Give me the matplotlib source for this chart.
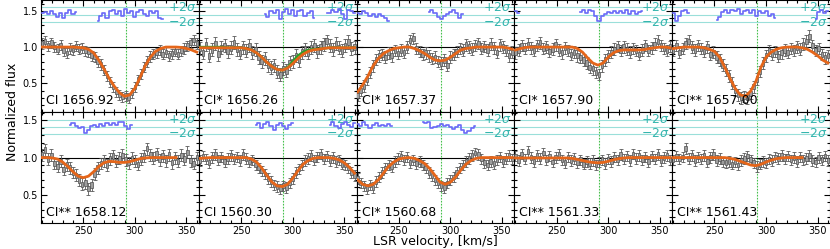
import numpy as np
import matplotlib
matplotlib.use('Agg')
import matplotlib.pyplot as plt
from matplotlib.ticker import MultipleLocator

nan = np.nan

# velocity grids (km/s): spectrum pixels and model samples
v_data = np.arange(210, 361, 3)
v_model = np.arange(210, 361, 5)

labels = ['CI 1656.92', 'CI* 1656.26', 'CI* 1657.37', 'CI* 1657.90', 'CI** 1657.00',
          'CI** 1658.12', 'CI 1560.30', 'CI* 1560.68', 'CI** 1561.33', 'CI** 1561.43']
errors = [0.07, 0.09, 0.08, 0.08, 0.08, 0.08, 0.07, 0.07, 0.07, 0.07]

# normalized flux, one list per transition
f1 = [1.05, 1.08, 1.02, 1.06, 1.00, 0.97, 1.03, 0.95, 0.92, 0.98,
      0.96, 1.01, 0.97, 0.99, 0.95, 0.93, 0.88, 0.86, 0.80, 0.76,
      0.68, 0.60, 0.52, 0.45, 0.38, 0.34, 0.31, 0.33, 0.30, 0.37,
      0.45, 0.55, 0.63, 0.72, 0.80, 0.87, 0.90, 0.92, 0.96, 0.90,
      0.93, 0.88, 0.91, 0.94, 0.90, 0.95, 0.98, 1.02, 1.06, 1.10,
      1.05]
f2 = [0.98, 0.92, 1.03, 0.88, 0.96, 1.05, 0.90, 0.99, 1.02, 0.94,
      0.99, 1.06, 0.97, 0.92, 1.00, 0.95, 1.02, 0.93, 0.96, 0.86,
      0.80, 0.84, 0.75, 0.72, 0.74, 0.66, 0.62, 0.70, 0.67, 0.78,
      0.80, 0.88, 0.82, 0.93, 0.97, 0.92, 0.99, 1.02, 0.94, 1.00,
      1.04, 1.08, 1.02, 0.97, 1.05, 0.99, 0.95, 1.02, 1.07, 0.98,
      1.00]
f3 = [0.33, 0.40, 0.46, 0.55, 0.65, 0.74, 0.83, 0.88, 0.90, 0.86,
      0.92, 0.88, 0.95, 0.91, 0.96, 0.93, 1.00, 1.09, 1.12, 0.98,
      0.94, 0.90, 0.92, 0.88, 0.84, 0.86, 0.80, 0.78, 0.82, 0.75,
      0.86, 0.90, 0.94, 0.98, 0.96, 1.03, 1.00, 0.97, 1.02, 1.05,
      0.98, 1.01, 0.96, 1.04, 0.99, 0.93, 1.03, 1.00, 0.95, 0.88,
      0.93]
f4 = [0.92, 0.96, 1.02, 0.98, 1.04, 0.99, 0.95, 1.02, 1.06, 0.98,
      1.00, 0.94, 0.97, 1.03, 0.96, 0.92, 0.99, 0.95, 0.90, 0.93,
      0.88, 0.86, 0.82, 0.78, 0.72, 0.70, 0.65, 0.62, 0.74, 0.82,
      0.88, 0.93, 0.97, 1.01, 0.95, 1.00, 0.97, 0.93, 0.98, 0.95,
      0.90, 0.96, 1.02, 0.95, 0.99, 1.04, 1.08, 1.02, 0.98, 0.95,
      1.01]
f5 = [0.95, 1.02, 0.93, 0.98, 1.05, 1.08, 1.00, 0.96, 1.02, 0.98,
      0.94, 1.00, 0.90, 0.93, 0.86, 0.82, 0.75, 0.68, 0.60, 0.50,
      0.40, 0.34, 0.30, 0.32, 0.30, 0.36, 0.45, 0.56, 0.66, 0.78,
      0.88, 0.95, 0.90, 0.94, 0.87, 0.92, 0.96, 0.93, 0.98, 0.95,
      1.00, 0.97, 1.04, 1.08, 1.15, 1.02, 0.95, 0.98, 0.90, 0.85,
      0.88]
f6 = [1.04, 1.10, 0.98, 1.03, 0.92, 0.88, 0.95, 0.84, 0.90, 0.86,
      0.80, 0.76, 0.70, 0.64, 0.66, 0.58, 0.63, 0.78, 0.86, 0.92,
      0.96, 0.90, 0.98, 1.02, 0.95, 0.99, 1.03, 0.97, 0.93, 0.99,
      0.95, 0.91, 0.98, 1.02, 1.12, 1.04, 0.99, 1.05, 0.97, 1.02,
      0.96, 1.04, 0.93, 1.00, 0.95, 1.03, 0.98, 1.07, 0.96, 0.92,
      1.00]
f7 = [0.96, 1.02, 0.98, 0.93, 1.00, 1.04, 0.97, 1.01, 0.95, 0.99,
      1.03, 0.98, 1.01, 0.96, 1.04, 0.99, 0.94, 0.97, 0.90, 0.86,
      0.82, 0.78, 0.72, 0.68, 0.63, 0.61, 0.58, 0.62, 0.60, 0.66,
      0.72, 0.80, 0.85, 0.90, 0.96, 0.99, 1.03, 0.97, 1.01, 1.05,
      0.98, 1.02, 0.96, 1.00, 0.95, 0.97, 0.91, 0.90, 0.86, 0.80,
      0.76]
f8 = [0.72, 0.66, 0.62, 0.58, 0.63, 0.60, 0.68, 0.74, 0.80, 0.86,
      0.90, 0.88, 0.95, 0.99, 1.02, 0.97, 1.01, 0.93, 0.97, 0.92,
      0.95, 0.90, 0.86, 0.80, 0.76, 0.70, 0.66, 0.62, 0.60, 0.66,
      0.70, 0.74, 0.80, 0.86, 0.90, 0.95, 0.99, 1.03, 1.06, 1.04,
      0.98, 0.93, 0.90, 0.95, 0.92, 0.97, 1.01, 0.95, 0.99, 1.03,
      0.98]
f9 = [1.02, 0.96, 1.05, 0.98, 1.08, 1.00, 0.95, 1.03, 0.99, 1.06,
      0.97, 1.02, 0.94, 1.00, 1.04, 0.97, 0.93, 1.01, 0.96, 0.99,
      0.93, 0.97, 0.91, 0.95, 0.92, 0.96, 0.90, 0.94, 0.97, 0.92,
      0.98, 0.95, 1.01, 0.97, 1.04, 0.98, 1.02, 0.96, 1.05, 0.99,
      1.03, 0.97, 1.01, 0.95, 1.02, 0.98, 1.04, 0.96, 1.00, 1.03,
      0.97]
f10 = [0.97, 1.02, 0.98, 1.01, 1.12, 0.99, 1.03, 0.96, 1.01, 0.98,
       1.03, 0.95, 1.00, 1.04, 0.96, 0.99, 0.94, 0.93, 0.95, 0.91,
       0.94, 0.90, 0.96, 0.99, 1.02, 0.97, 0.93, 0.88, 0.91, 0.95,
       0.93, 0.98, 0.96, 1.01, 0.99, 1.03, 0.98, 1.02, 0.97, 1.00,
       0.95, 1.01, 0.97, 0.99, 1.03, 0.96, 0.94, 1.00, 0.97, 1.02,
       0.96]

# fitted profiles sampled every 5 km/s
m1 = [1.0, 1.0, 1.0, 1.0, 1.0, 1.0, 1.0, 0.995, 0.99, 0.97,
      0.92, 0.82, 0.70, 0.57, 0.46, 0.37, 0.32, 0.34, 0.43, 0.58,
      0.74, 0.86, 0.94, 0.98, 1.0, 1.0, 1.0, 0.995, 0.98, 0.96,
      0.93]
m2 = [0.99, 0.99, 0.99, 0.99, 0.99, 0.99, 0.99, 0.99, 0.99, 0.98,
      0.96, 0.92, 0.86, 0.79, 0.73, 0.69, 0.68, 0.71, 0.77, 0.84,
      0.90, 0.94, 0.96, 0.97, 0.98, 0.99, 0.99, 0.99, 0.99, 0.99,
      0.99]
m3 = [0.38, 0.48, 0.60, 0.74, 0.84, 0.91, 0.95, 0.98, 0.99, 1.0,
      1.0, 0.98, 0.95, 0.91, 0.86, 0.82, 0.81, 0.82, 0.86, 0.91,
      0.96, 0.98, 0.99, 1.0, 1.0, 1.0, 1.0, 1.0, 1.0, 0.99,
      0.97]
m4 = [0.96, 0.98, 0.995, 1.0, 1.0, 1.0, 1.0, 1.0, 1.0, 1.0,
      1.0, 1.0, 0.98, 0.93, 0.85, 0.78, 0.75, 0.78, 0.86, 0.92,
      0.95, 0.96, 0.96, 0.96, 0.96, 0.965, 0.98, 0.99, 1.0, 1.0,
      0.99]
m5 = [0.98, 0.99, 1.0, 1.0, 1.0, 1.0, 0.99, 0.97, 0.94, 0.86,
      0.72, 0.57, 0.43, 0.34, 0.32, 0.39, 0.52, 0.72, 0.86, 0.93,
      0.97, 0.99, 1.0, 1.0, 1.0, 0.99, 0.97, 0.93, 0.88, 0.82,
      0.78]
m6 = [1.0, 1.0, 0.995, 0.98, 0.94, 0.88, 0.81, 0.75, 0.73, 0.75,
      0.81, 0.88, 0.93, 0.95, 0.945, 0.935, 0.935, 0.945, 0.965, 0.985,
      0.995, 1.0, 1.0, 1.0, 1.0, 1.0, 1.0, nan, nan, nan,
      nan]
m7 = [0.99, 0.995, 1.0, 1.0, 1.0, 1.0, 1.0, 1.0, 1.0, 1.0,
      0.98, 0.94, 0.86, 0.76, 0.67, 0.62, 0.61, 0.64, 0.72, 0.82,
      0.91, 0.96, 0.99, 1.0, 1.0, 1.0, 0.99, 0.97, 0.93, 0.87,
      0.79]
m8 = [0.70, 0.64, 0.62, 0.64, 0.70, 0.79, 0.88, 0.94, 0.98, 0.995,
      1.0, 0.99, 0.96, 0.92, 0.85, 0.76, 0.67, 0.64, 0.67, 0.74,
      0.83, 0.91, 0.96, 0.99, 1.0, 1.0, 1.0, 1.0, 1.0, 1.0,
      1.0]
m9 = [0.995, 0.995, 0.995, 0.995, 0.995, 0.995, 0.995, 0.995, 0.995, 0.995,
      0.995, 0.99, 0.975, 0.96, 0.945, 0.935, 0.93, 0.935, 0.95, 0.97,
      0.985, 0.995, 1.0, 1.0, 1.0, 1.0, 1.0, 1.0, 1.0, 1.0,
      1.0]
m10 = [1.0, 1.0, 1.0, 1.0, 1.0, 1.0, 1.0, 1.0, 1.0, 1.0,
       1.0, 0.99, 0.975, 0.95, 0.925, 0.90, 0.89, 0.91, 0.94, 0.965,
       0.985, 0.995, 1.0, 1.0, 1.0, 1.0, nan, nan, nan, nan,
       nan]
# second (green) component, only shown in CI* 1656.26
g2 = [1.0, 1.0, 1.0, 1.0, 1.0, 0.995, 0.99, 0.99, 0.99, 0.98,
      0.96, 0.92, 0.86, 0.79, 0.73, 0.69, 0.68, 0.72, 0.80, 0.88,
      0.93, 0.96, 0.97, 0.975, 0.98, 0.99, 0.99, 0.99, 0.99, 0.99,
      0.99]

# residuals in units of sigma: (first velocity, values on the 3 km/s grid)
r1 = [(210, [0.5, 0.8, 0.2, 1.0, 0.3, -0.5, 0.6, -0.8, 0.4, 1.2, 0.3, 0.7]),
      (264, [-1.6, -0.4, 0.5, -0.8, 0.9, 1.3, 0.2, 1.1, -0.3, 1.5, 0.6,
             1.0, -0.5, 0.8, 1.4, 0.3, -0.2, 0.9, 0.4, 1.1, -0.9, -1.2])]
r2 = [(273, [0.2, -0.6, 1.0, 0.4, 1.3, -1.2, 0.8, 1.5, 0.3, 1.2, -0.4,
             0.9, 1.4, -0.2, 0.6, 1.1, -0.8]),
      (333, [0.4, 0.6, 1.3, 0.8, 1.6, 0.2, -1.2, 1.4, 0.9, 0.5])]
r3 = [(210, [0.6, 0.2, 0.9, 0.5, -0.3, 0.1, -0.6, 0.3, -0.2, -0.9, -1.6]),
      (279, [0.7, 1.2, 0.4, -0.5, -1.0, -0.3, 0.2, 0.8, 1.3, 0.6, -0.8, 0.1])]
r4 = [(210, [1.0, 0.5]),
      (273, [0.8, 1.4, 0.6, 1.2, 0.9, -0.4, -1.5, -0.2, 0.3, 0.8, 0.4,
             1.0, 0.5, 1.1, 0.6, 1.2, 0.3, 0.9, 0.2, 0.7, 1.0])]
r5 = [(210, [0.5, -1.5, -0.2, 1.0, 1.4, 0.6]),
      (252, [-1.4, -0.6, 0.8, 1.2, 0.4, 1.3, 0.9, 1.5, 0.2, 1.1,
             1.4, 0.6, 1.2, -0.2, 0.9, 0.5, 1.0, -0.4, 0.3, -0.8]),
      (348, [-1.0, 0.8, 1.3, 0.6, 1.0])]
r6 = [(237, [0.6, 0.9, 0.2, -0.4, -0.1, -1.8, -1.0, 0.2, 0.5, 0.0, 0.8,
             0.3, 0.9, 0.4, 1.0, 0.6, 1.2, 1.4, 0.2, -0.6, 0.5])]
r7 = [(264, [0.4, 1.0, -0.3, 0.7, 1.3, 0.2, -0.8, 0.5, 1.1, 0.3, -0.5, 0.6, 0.9]),
      (336, [0.5, 1.2, 0.3, -0.4, 0.8, 1.4, 0.6, -0.2, 0.9])]
r8 = [(210, [0.8, 0.3, 1.2, 0.5, -0.3, 0.4, 0.9, 0.2, 0.6, 0.3, 0.7, 0.1]),
      (273, [1.4, 1.0, 1.3, -0.4, -0.2, 0.3, 0.8, 0.2, 0.5, 0.0, -0.5,
             -0.2, 0.4, -0.9, -1.6, -1.2, -0.4, 0.2])]
r9 = []
r10 = []

fluxes = [f1, f2, f3, f4, f5, f6, f7, f8, f9, f10]
models = [m1, m2, m3, m4, m5, m6, m7, m8, m9, m10]
greens = [None, g2, None, None, None, None, None, None, None, None]
resids = [r1, r2, r3, r4, r5, r6, r7, r8, r9, r10]

v_sys = 291
row_ylim = [(0.11, 1.65), (0.12, 1.62)]
row_band = [(1.445, 0.105), (1.415, 0.097)]   # centre, 2 sigma

fig, axes = plt.subplots(2, 5, figsize=(8.3, 2.49), dpi=100)
fig.subplots_adjust(left=0.0494, right=1.0, top=1.0, bottom=0.1044,
                    wspace=0, hspace=0)

for k, ax in enumerate(axes.flat):
    row, col = divmod(k, 5)
    c, h = row_band[row]
    v = v_data
    f = np.array(fluxes[k])
    e = errors[k]

    ax.axhline(1.0, color='k', lw=0.8, zorder=1)
    ax.axvline(v_sys, color='#46c04c', ls=(0, (1.5, 1.2)), lw=0.8, zorder=1)
    for yy in (c - h, c, c + h):
        ax.axhline(yy, color='#9adfda', lw=0.8, zorder=1)
    ax.text(0.985, c + h, r'$+2\sigma$', transform=ax.get_yaxis_transform(),
            ha='right', va='center', color='#35b5ae', fontsize=9)
    ax.text(0.985, c - h, r'$-2\sigma$', transform=ax.get_yaxis_transform(),
            ha='right', va='center', color='#35b5ae', fontsize=9)

    # spectrum: error bars plus small boxes
    ax.errorbar(v, f, yerr=e, fmt='none', ecolor='0.35',
                elinewidth=0.6, capsize=1.2, capthick=0.6, zorder=2)
    ax.bar(v, 0.9 * e, bottom=f - 0.45 * e, width=2.4, color='0.62',
           edgecolor='0.3', linewidth=0.5, zorder=3)

    if greens[k] is not None:
        ax.plot(v_model, greens[k], color='#2ca02c', lw=1.8, zorder=4)
    ax.plot(v_model, models[k], color='#e5661a', lw=2.0, zorder=5)

    for v0, vals in resids[k]:
        vr = v0 + 3 * np.arange(len(vals))
        ax.step(vr, c + np.array(vals) * h / 2, where='mid',
                color='#6a6af7', lw=1.2, zorder=4)

    ax.text(0.032, 0.04, labels[k], transform=ax.transAxes,
            ha='left', va='bottom', fontsize=9, zorder=6)

    ax.set_xlim(209, 362)
    ax.set_ylim(*row_ylim[row])
    ax.xaxis.set_major_locator(MultipleLocator(50))
    ax.xaxis.set_minor_locator(MultipleLocator(10))
    ax.yaxis.set_major_locator(MultipleLocator(0.5))
    ax.yaxis.set_minor_locator(MultipleLocator(0.1))
    ax.tick_params(which='both', direction='in', top=True, right=True,
                   labelsize=7, width=0.8, pad=2)
    ax.tick_params(which='major', length=4)
    ax.tick_params(which='minor', length=2)
    if col > 0:
        ax.tick_params(labelleft=False)
    if row == 0:
        ax.tick_params(labelbottom=False)
    for s in ax.spines.values():
        s.set_linewidth(0.8)

fig.text(0.525, 0.03, 'LSR velocity, [km/s]', ha='center', va='center', fontsize=9)
fig.text(0.015, 0.55, 'Normalized flux', ha='center', va='center',
         rotation=90, fontsize=9)

fig.savefig('out.png', dpi=100)
